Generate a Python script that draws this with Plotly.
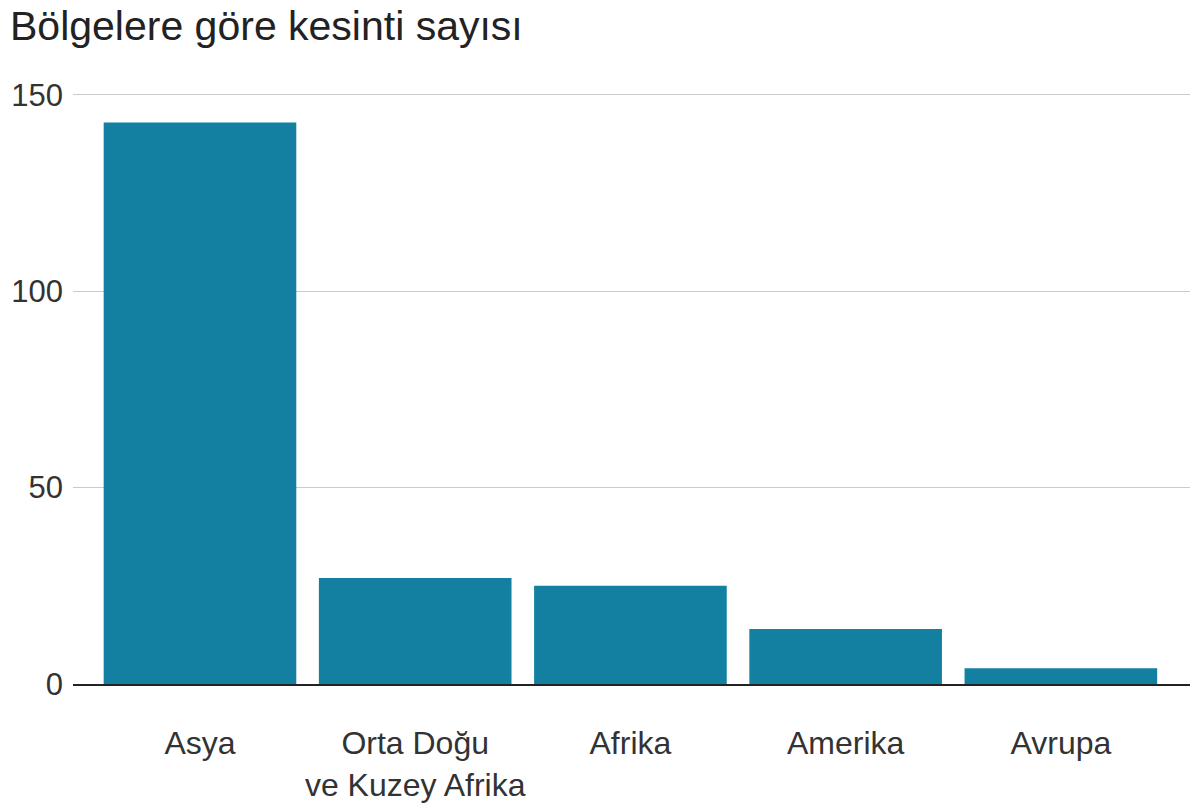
import plotly.graph_objects as go

categories = ["Asya", "Orta Doğu<br>ve Kuzey Afrika", "Afrika", "Amerika", "Avrupa"]
values = [143, 27, 25, 14, 4]
y_ticks = [0, 50, 100, 150]

BAR = "#1380A1"
FONT = "Liberation Sans, Arial, Helvetica, sans-serif"

fig = go.Figure(go.Bar(x=categories, y=values, marker_color=BAR, marker_line_width=0))

fig.update_layout(
    width=1200, height=804,
    paper_bgcolor="white", plot_bgcolor="white",
    margin=dict(l=65, r=18, t=83, b=128),
    bargap=0.105,
    showlegend=False,
    font=dict(family=FONT, color="#333333"),
    title=dict(text="Bölgelere göre kesinti sayısı", x=2/1200, xref="container", xanchor="left",
               y=1 - 3/804, yref="container", yanchor="top",
               font=dict(size=41, color="#222222", family=FONT)),
)
fig.update_xaxes(
    type="category", range=[-0.59, 4.6], automargin=False,
    showline=True, linecolor="#222222", linewidth=2,
    showgrid=False, ticks="", ticklabelstandoff=30,
    tickfont=dict(size=32, color="#333333"),
)
fig.update_yaxes(
    range=[0, 151], tickvals=y_ticks, automargin=False,
    showgrid=True, gridcolor="#cbcbcb", gridwidth=1,
    zeroline=False, showline=False, ticks="", ticklabelstandoff=9,
    tickfont=dict(size=31, color="#333333"),
)

fig.write_html("out.html")
